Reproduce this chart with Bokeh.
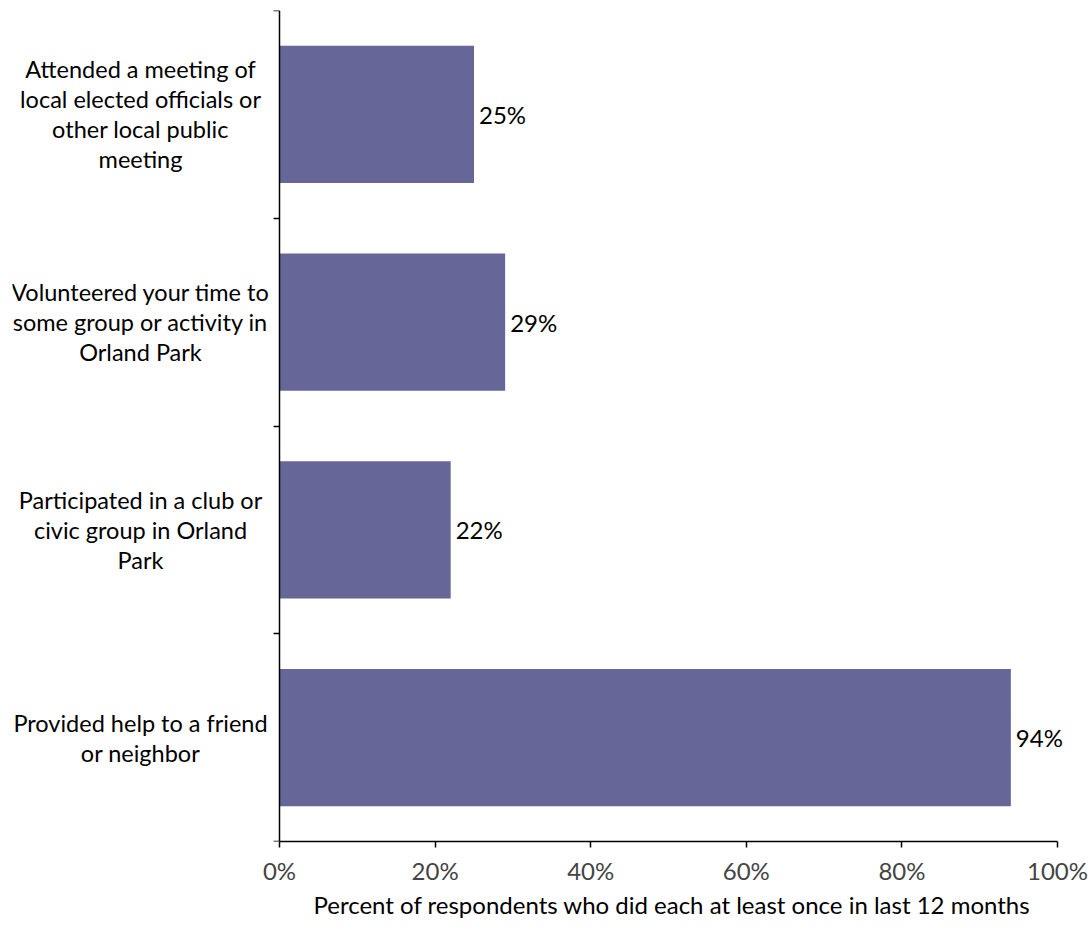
from bokeh.plotting import figure
from bokeh.models import Range1d, FixedTicker, PrintfTickFormatter, ColumnDataSource, Title
from bokeh.core.properties import value
from bokeh.embed import file_html
from bokeh.resources import INLINE

categories = [
    "Attended a meeting of\nlocal elected officials or\nother local public\nmeeting",
    "Volunteered your time to\nsome group or activity in\nOrland Park",
    "Participated in a club or\ncivic group in Orland\nPark",
    "Provided help to a friend\nor neighbor",
]
values = [25, 29, 22, 94]
x_ticks = [0, 20, 40, 60, 80, 100]
x_title = "Percent of respondents who did each at least once in last 12 months"

FONT = "Lato"
LINE_GAP = 30  # px between category label lines
positions = [i + 0.5 for i in range(len(categories))]
labels = [f"{v}%" for v in values]

src = ColumnDataSource(dict(y=positions, v=values, lab=labels))

# category labels split into centred lines
ln_y, ln_txt, ln_off = [], [], []
for pos, cat in zip(positions, categories):
    lines = cat.split("\n")
    n = len(lines)
    for k, t in enumerate(lines):
        ln_y.append(pos)
        ln_txt.append(t)
        ln_off.append((k - (n - 1) / 2) * LINE_GAP)
cat_src = ColumnDataSource(dict(x=[0] * len(ln_y), y=ln_y, t=ln_txt, yo=ln_off))

# frame spans nearly the whole width so texts outside 0..100 are not clipped;
# axes are limited to 0..100 with bounds / fixed_location
p = figure(width=1088, height=918, output_backend="svg", toolbar_location=None,
           x_range=Range1d(-34.32, 103.98), y_range=Range1d(len(categories), 0),
           min_border_left=12, min_border_right=0, min_border_top=10, min_border_bottom=10)
p.outline_line_color = None
p.grid.grid_line_color = None

p.hbar(y="y", left=0, right="v", height=0.66, source=src, fill_color="#666699", line_color=None)
p.text(x="v", y="y", text="lab", source=src, x_offset=5, text_baseline="middle",
       text_font=value(FONT), text_font_size="24px", text_color="black")
p.text(x="x", y="y", text="t", source=cat_src, x_offset=-139, y_offset="yo",
       text_align="center", text_baseline="middle",
       text_font=value(FONT), text_font_size="23.5px", text_color="black")

xa = p.xaxis[0]
xa.bounds = (0, 100)
xa.ticker = FixedTicker(ticks=x_ticks)
xa.formatter = PrintfTickFormatter(format="%d%%")
xa.major_label_text_font = FONT
xa.major_label_text_font_size = "24px"
xa.major_label_standoff = 8
xa.major_tick_out = 6
xa.major_tick_in = 0
xa.minor_tick_line_color = None
xa.axis_line_width = 1.5
xa.major_tick_line_width = 1.5
xa.axis_line_color = "black"
xa.major_tick_line_color = "black"

title = Title(text=x_title, align="left", offset=301, text_font=FONT, text_font_size="24px",
              text_font_style="normal", text_color="black", standoff=0)
p.add_layout(title, "below")

ya = p.yaxis[0]
ya.fixed_location = 0
ya.ticker = FixedTicker(ticks=positions, minor_ticks=list(range(len(categories) + 1)))
ya.major_label_overrides = {pos: "" for pos in positions}
ya.major_label_text_color = None
ya.major_label_standoff = 0
ya.major_tick_line_color = None
ya.major_tick_out = 0
ya.major_tick_in = 0
ya.minor_tick_out = 6
ya.minor_tick_in = 0
ya.minor_tick_line_color = "black"
ya.minor_tick_line_width = 1.5
ya.axis_line_width = 1.5
ya.axis_line_color = "black"

open("out.html", "w").write(file_html(p, INLINE))
